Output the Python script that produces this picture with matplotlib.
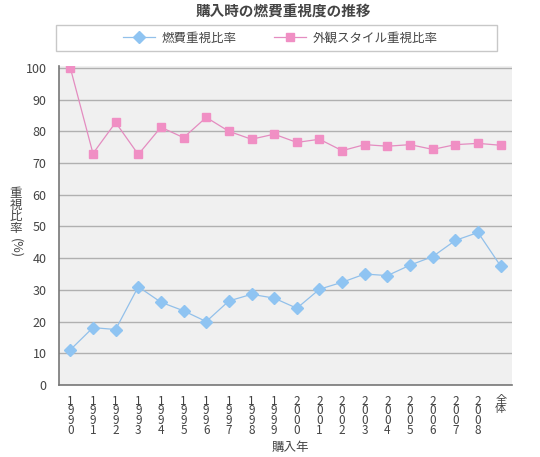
import matplotlib

matplotlib.use("Agg")
import matplotlib.pyplot as plt
from matplotlib.patches import Rectangle

plt.rcParams["font.family"] = ["Noto Sans CJK JP", "DejaVu Sans"]

# --- datos ---
years = ["1990", "1991", "1992", "1993", "1994", "1995", "1996", "1997", "1998", "1999",
         "2000", "2001", "2002", "2003", "2004", "2005", "2006", "2007", "2008", "全体"]
fuel = [11.1, 18.1, 17.5, 31.0, 26.1, 23.4, 20.0, 26.5, 28.6, 27.4,
        24.2, 30.2, 32.4, 35.0, 34.5, 37.8, 40.5, 45.6, 48.1, 37.5]
looks = [100.0, 73.0, 82.8, 72.7, 81.3, 78.0, 84.4, 80.0, 77.5, 79.1,
         76.5, 77.5, 73.9, 75.8, 75.3, 75.8, 74.3, 75.8, 76.2, 75.6]
series_names = ["燃費重視比率", "外観スタイル重視比率"]
yticks = [0, 10, 20, 30, 40, 50, 60, 70, 80, 90, 100]

TXT = "#444444"
BLUE_LINE, BLUE_MK = "#92c0ea", "#8fc4f2"
PINK_LINE, PINK_MK = "#e48cc0", "#f08fc4"

fig = plt.figure(figsize=(5.4, 4.57), dpi=100)
fig.patch.set_facecolor("white")
W, H = 540, 457
ax = fig.add_axes([59 / W, 72 / H, (512 - 59) / W, (391 - 72) / H])
ax.set_facecolor("#f0f0f0")

x = list(range(len(years)))
ax.plot(x, fuel, color=BLUE_LINE, lw=0.9, marker="D", ms=5.8, mfc=BLUE_MK, mec=BLUE_MK,
        label=series_names[0], zorder=3)
ax.plot(x, looks, color=PINK_LINE, lw=0.9, marker="s", ms=6.2, mfc=PINK_MK, mec=PINK_MK,
        label=series_names[1], zorder=3)

ax.set_xlim(-0.5, len(years) - 0.5)
ax.set_ylim(0, 100.6)
ax.set_yticks(yticks)
ax.set_yticklabels([str(v) for v in yticks], fontsize=9, color=TXT)
ax.yaxis.grid(True, color="#b0b0b0", lw=1)
ax.set_axisbelow(True)
ax.tick_params(length=0, pad=9)

ax.set_xticks(x)
labels = ax.set_xticklabels(["\n".join(y) for y in years], fontsize=8.5, color=TXT,
                            linespacing=0.66, va="top")
# las etiquetas en kanji necesitan más interlineado
for lab, y in zip(labels, years):
    if not y.isdigit():
        lab.set_linespacing(0.85)
        lab.set_fontsize(8)
ax.tick_params(axis="x", pad=7)

for s in ("top", "right"):
    ax.spines[s].set_visible(False)
for s in ("left", "bottom"):
    ax.spines[s].set_color("#777777")
    ax.spines[s].set_linewidth(1.2)

# títulos y etiquetas
fig.text(283 / W, 1 - 11 / H, "購入時の燃費重視度の推移", ha="center", va="center",
         fontsize=10.5, fontweight="bold", color=TXT)
fig.text(290 / W, 1 - 447 / H, "購入年", ha="center", va="center", fontsize=9, color=TXT)
fig.text(16 / W, 1 - 211 / H, "\n".join("重視比率"), ha="center", va="center",
         fontsize=9, color=TXT, linespacing=0.86)
fig.text(16 / W, 1 - 248 / H, "(%)", ha="center", va="center", rotation=-90,
         fontsize=9, color=TXT)

# leyenda con recuadro
fig.add_artist(Rectangle((56 / W, 1 - 51 / H), (497 - 56) / W, 26 / H,
                         transform=fig.transFigure, fill=False, ec="#c8c8c8", lw=1))
fig.legend(loc="center", bbox_to_anchor=(280 / W, 1 - 38 / H), ncol=2, frameon=False,
           fontsize=9, handlelength=2.6, columnspacing=3.0, handletextpad=0.5,
           labelcolor=TXT)

fig.savefig("out.png", dpi=100, facecolor="white")
